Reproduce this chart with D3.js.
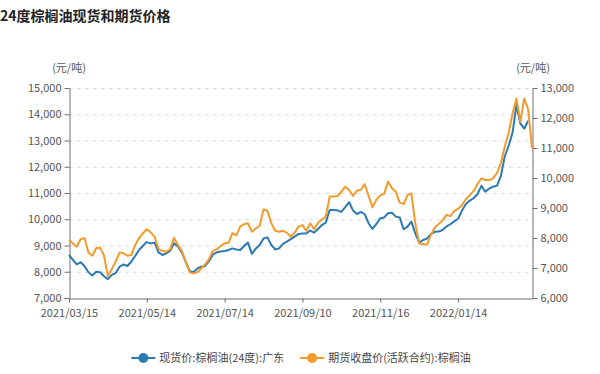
<!DOCTYPE html>
<html><head><meta charset="utf-8">
<script src="https://cdn.jsdelivr.net/npm/d3@7"></script>
<style>
body{margin:0;background:#fff}
svg{display:block;font-family:"Noto Sans CJK SC","Noto Sans",sans-serif}
</style>
</head><body><svg id="c" width="600" height="374"></svg>
<script>
const title = "24度棕榈油现货和期货价格";
const seriesNames = ["现货价:棕榈油(24度):广东", "期货收盘价(活跃合约):棕榈油"];
const seriesColors = ["#2a7ab3", "#f39a2c"];
const unitLabel = "(元/吨)";
const xTickLabels = ["2021/03/15", "2021/05/14", "2021/07/14", "2021/09/10", "2021/11/16", "2022/01/14"];
const xTickStep = 20;
const leftTicks = [7000, 8000, 9000, 10000, 11000, 12000, 13000, 14000, 15000];
const rightTicks = [6000, 7000, 8000, 9000, 10000, 11000, 12000, 13000];

// 现货价 (left axis)
const spot = [
 8640, 8450, 8280, 8360, 8210, 7980, 7860, 8000, 7980, 7830,
 7720, 7880, 7950, 8190, 8280, 8220, 8380, 8600, 8830, 8990,
 9130, 9080, 9110, 8740, 8640, 8700, 8800, 9080, 8960, 8740,
 8380, 8030, 7980, 8130, 8190, 8220, 8410, 8660, 8740, 8770,
 8790, 8830, 8890, 8850, 8830, 8980, 9110, 8680, 8880, 9020,
 9270, 9310, 9020, 8850, 8890, 9060, 9150, 9240, 9340, 9440,
 9460, 9460, 9570, 9490, 9630, 9780, 9870, 10350, 10350, 10340,
 10280, 10460, 10650, 10330, 10200, 10280, 10190, 9850, 9630, 9820,
 10040, 10070, 10230, 10250, 10100, 10070, 9620, 9720, 9910, 9460,
 9110, 9210, 9260, 9430, 9520, 9530, 9590, 9720, 9810, 9920,
 10020, 10330, 10580, 10710, 10800, 10960, 11270, 11050, 11170, 11240,
 11280, 11650, 12400, 12800, 13300, 14350, 13650, 13450, 13750, null
];
// 期货收盘价 (right axis)
const futures = [
 7930, 7820, 7710, 7970, 7990, 7520, 7410, 7660, 7680, 7410,
 6730, 6970, 7210, 7520, 7490, 7410, 7430, 7770, 7990, 8160,
 8290, 8190, 8040, 7630, 7570, 7540, 7630, 8010, 7770, 7570,
 7210, 6860, 6820, 6860, 6990, 7120, 7300, 7570, 7620, 7740,
 7820, 7840, 8160, 8090, 8380, 8460, 8490, 8210, 8320, 8400,
 8960, 8900, 8490, 8240, 8210, 8240, 8180, 8040, 8180, 8380,
 8430, 8240, 8490, 8290, 8510, 8620, 8710, 9380, 9380, 9400,
 9540, 9710, 9600, 9400, 9580, 9600, 9800, 9400, 9020, 9270,
 9420, 9470, 9880, 9660, 9540, 9180, 9130, 9430, 9490, 8490,
 7820, 7800, 7770, 8100, 8340, 8470, 8580, 8770, 8730, 8900,
 8970, 9100, 9290, 9430, 9570, 9800, 9990, 9930, 9930, 9990,
 10160, 10490, 11040, 11500, 12150, 12650, 11880, 12650, 12300, 11000
];

const svg = d3.select("#c");
const W = 600, H = 374;
const mLeft = 69, mRight = 532, mTop = 88, mBottom = 298;

const x = d3.scaleLinear().domain([0, futures.length - 1]).range([mLeft, mRight]);
const yL = d3.scaleLinear().domain([7000, 15000]).range([mBottom, mTop]);
const yR = d3.scaleLinear().domain([6000, 13000]).range([mBottom, mTop]);

// title
svg.append("text").attr("x", 0).attr("y", 21).attr("font-size", 14).attr("font-weight", "bold")
  .attr("fill", "#222").text(title);

// unit labels
svg.append("text").attr("x", mLeft).attr("y", 72).attr("text-anchor", "middle")
  .attr("font-size", 11).attr("fill", "#555").text(unitLabel);
svg.append("text").attr("x", mRight + 1).attr("y", 72).attr("text-anchor", "middle")
  .attr("font-size", 11).attr("fill", "#555").text(unitLabel);

// grid lines
svg.append("g").selectAll("line").data(leftTicks.filter(d => d !== 7000)).join("line")
  .attr("x1", mLeft).attr("x2", mRight)
  .attr("y1", d => yL(d) + 0.5).attr("y2", d => yL(d) + 0.5)
  .attr("stroke", "#dcdcdc").attr("stroke-dasharray", "4,4");

function styleAxis(g) {
  g.selectAll(".domain").attr("stroke", "#6e6e6e");
  g.selectAll(".tick line").attr("stroke", "#6e6e6e");
  g.selectAll(".tick text").attr("fill", "#555").attr("font-size", 11)
    .attr("font-family", '"Noto Sans CJK SC","Noto Sans",sans-serif');
}

const fmt = d3.format(",");
svg.append("g").attr("transform", `translate(${mLeft + 0.5},0)`)
  .call(d3.axisLeft(yL).tickValues(leftTicks).tickFormat(fmt).tickSize(5).tickSizeOuter(0).tickPadding(3))
  .call(styleAxis);
svg.append("g").attr("transform", `translate(${mRight + 0.5},0)`)
  .call(d3.axisRight(yR).tickValues(rightTicks).tickFormat(fmt).tickSize(5).tickSizeOuter(0).tickPadding(3))
  .call(styleAxis);
svg.append("g").attr("transform", `translate(0,${mBottom + 0.5})`)
  .call(d3.axisBottom(x).tickValues(xTickLabels.map((d, i) => i * xTickStep))
    .tickFormat((d, i) => xTickLabels[i]).tickSize(4).tickSizeOuter(0).tickPadding(7))
  .call(styleAxis);

// lines
const lineL = d3.line().defined(d => d != null).x((d, i) => x(i)).y(d => yL(d));
const lineR = d3.line().defined(d => d != null).x((d, i) => x(i)).y(d => yR(d));
svg.append("path").datum(spot).attr("d", lineL).attr("fill", "none")
  .attr("stroke", seriesColors[0]).attr("stroke-width", 2).attr("stroke-linejoin", "round");
svg.append("path").datum(futures).attr("d", lineR).attr("fill", "none")
  .attr("stroke", seriesColors[1]).attr("stroke-width", 2).attr("stroke-linejoin", "round");

// legend
const legY = 358;
const leg = svg.append("g");
let cx = 0;
seriesNames.forEach((name, i) => {
  const g = leg.append("g").attr("transform", `translate(${cx},0)`);
  g.append("line").attr("x1", 0).attr("x2", 24).attr("y1", legY).attr("y2", legY)
    .attr("stroke", seriesColors[i]).attr("stroke-width", 2);
  g.append("circle").attr("cx", 12).attr("cy", legY).attr("r", 5).attr("fill", seriesColors[i]);
  const t = g.append("text").attr("x", 28).attr("y", legY).attr("dy", "0.35em")
    .attr("font-size", 11).attr("fill", "#444").text(name);
  cx += 28 + t.node().getComputedTextLength() + 16;
});
const legW = cx - 16;
leg.attr("transform", `translate(${(W - legW) / 2 + 1},0)`);
</script>
</body></html>
